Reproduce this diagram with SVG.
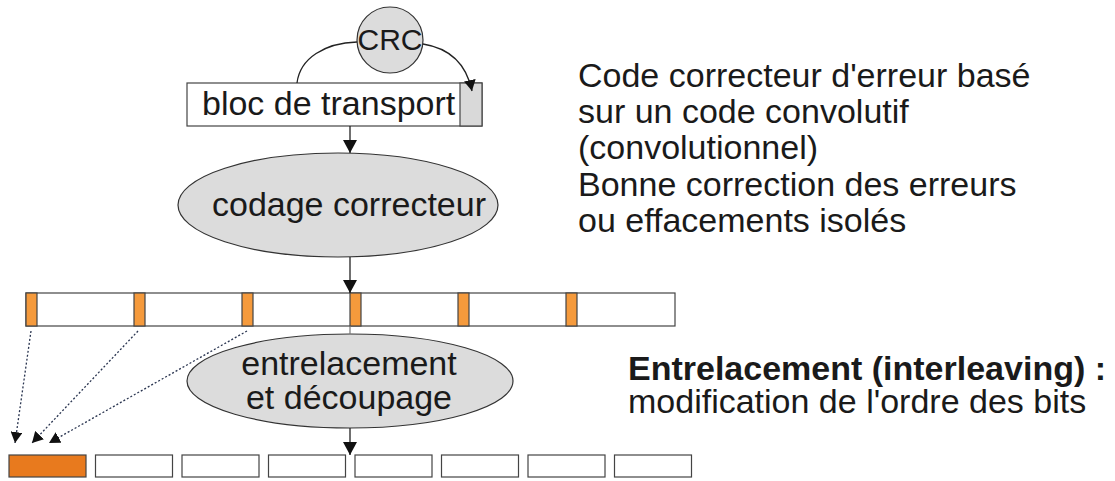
<svg xmlns="http://www.w3.org/2000/svg" width="1115" height="481" viewBox="0 0 1115 481">
<style>
text{font-family:"Liberation Sans",Arial,sans-serif;font-size:34px;fill:#1a1a1a}
.node{fill:#dcdcdc;stroke:#333;stroke-width:1.2}
.box{fill:#fff;stroke:#444;stroke-width:1.2}
.seg{fill:#f59a3c;stroke:#444;stroke-width:1.2}
.conn{fill:none;stroke:#222;stroke-width:1.3}
.dot{fill:none;stroke:#2a3550;stroke-width:1.3;stroke-dasharray:2 2}
</style>
<defs>
<marker id="ah" markerUnits="userSpaceOnUse" markerWidth="14" markerHeight="14" viewBox="0 0 14 14" refX="13" refY="7" orient="auto">
<path d="M0,0 L13,7 L0,14 z" fill="#111"/>
</marker>
<marker id="ahs" markerUnits="userSpaceOnUse" markerWidth="12" markerHeight="12" viewBox="0 0 12 12" refX="11" refY="6" orient="auto">
<path d="M0,0 L11,6 L0,12 z" fill="#111"/>
</marker>
</defs>
<rect width="1115" height="481" fill="#fff"/>

<g id="transport">
<rect class="box" x="187" y="83" width="295" height="43"/>
<rect x="460" y="83" width="22" height="43" fill="#d9d9d9" stroke="#444" stroke-width="1.2"/>
<text x="202" y="115">bloc de transport</text>
</g>

<g id="crc">
<circle class="node" cx="390" cy="40" r="33"/>
<text x="390" y="50" text-anchor="middle" style="font-size:30px">CRC</text>
</g>

<g id="codage">
<ellipse class="node" cx="338" cy="205" rx="160" ry="52"/>
<text x="349" y="216" text-anchor="middle">codage correcteur</text>
</g>

<g id="bar">
<rect class="box" x="26" y="293" width="649" height="33"/>
<rect class="seg" x="26" y="293" width="11" height="33"/>
<rect class="seg" x="134" y="293" width="11" height="33"/>
<rect class="seg" x="242" y="293" width="11" height="33"/>
<rect class="seg" x="350" y="293" width="11" height="33"/>
<rect class="seg" x="458" y="293" width="11" height="33"/>
<rect class="seg" x="566" y="293" width="11" height="33"/>
</g>

<g id="entrelacement">
<ellipse class="node" cx="350" cy="381" rx="163" ry="47"/>
<text x="349" y="375" text-anchor="middle">entrelacement</text>
<text x="349" y="409" text-anchor="middle">et découpage</text>
</g>

<g id="blocs">
<rect x="9" y="455" width="77" height="22" fill="#e87a1e" stroke="#444" stroke-width="1.2"/>
<rect class="box" x="95.5" y="455" width="77" height="22"/>
<rect class="box" x="182" y="455" width="77" height="22"/>
<rect class="box" x="268.5" y="455" width="77" height="22"/>
<rect class="box" x="355" y="455" width="77" height="22"/>
<rect class="box" x="441.5" y="455" width="77" height="22"/>
<rect class="box" x="528" y="455" width="77" height="22"/>
<rect class="box" x="614.5" y="455" width="77" height="22"/>
</g>

<g id="texte-codage">
<text x="578" y="87">Code correcteur d'erreur basé</text>
<text x="578" y="123">sur un code convolutif</text>
<text x="578" y="159">(convolutionnel)</text>
<text x="578" y="196">Bonne correction des erreurs</text>
<text x="578" y="232">ou effacements isolés</text>
</g>

<g id="texte-entrelacement">
<text x="628" y="380" font-weight="bold">Entrelacement (interleaving) :</text>
<text x="628" y="413">modification de l'ordre des bits</text>
</g>

<g id="connectors">
<path class="conn" d="M297,83 C300,58 325,43 357,42"/>
<path class="conn" d="M423,44 C448,48 466,62 472,91" marker-end="url(#ahs)"/>
<line class="conn" x1="350" y1="126" x2="350" y2="153" marker-end="url(#ah)"/>
<line class="conn" x1="350" y1="257" x2="350" y2="293" marker-end="url(#ah)"/>
<line x1="350" y1="326" x2="350" y2="334" stroke="#777" stroke-width="1.2"/>
<line class="conn" x1="350" y1="428" x2="350" y2="455" marker-end="url(#ah)"/>
<path class="dot" d="M31,331 L15,443" marker-end="url(#ahs)"/>
<path class="dot" d="M138,331 L32,443" marker-end="url(#ahs)"/>
<path class="dot" d="M247,331 L49,443" marker-end="url(#ahs)"/>
</g>
</svg>
